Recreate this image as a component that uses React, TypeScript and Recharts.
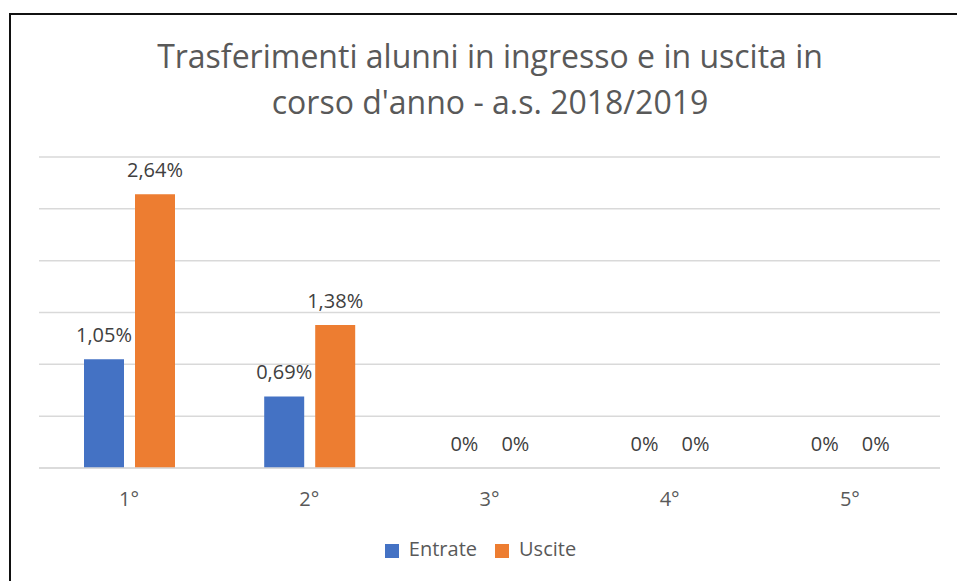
import { Bar, BarChart, CartesianGrid, Legend, XAxis, YAxis } from "recharts";

// Classi (anno di corso)
const classes: string[] = ["1°", "2°", "3°", "4°", "5°"];
// Percentuali di trasferimento
const entrate: number[] = [1.05, 0.69, 0, 0, 0];
const uscite: number[] = [2.64, 1.38, 0, 0, 0];
const yTicks: number[] = [0, 0.5, 1, 1.5, 2, 2.5, 3];

const data = classes.map((c, i) => ({ classe: c, entrate: entrate[i], uscite: uscite[i] }));

const FONT = "'Open Sans', 'Liberation Sans', sans-serif";

const fmt = (v: unknown) => `${String(v).replace(".", ",")}%`;

// etichetta sopra la barra, anche quando il valore è 0
const renderLabel = (props: any) => {
  const { x, y, width, value } = props;
  return (
    <text
      x={Number(x) + Number(width) / 2}
      y={Number(y) - 17}
      textAnchor="middle"
      fill="#404040"
      fontSize={20}
      fontFamily={FONT}
    >
      {fmt(value)}
    </text>
  );
};

export default function App() {
  return (
    <div style={{ position: "absolute", left: 0, top: 0, width: 957, height: 581, background: "#fff", fontFamily: FONT }}>
      <div
        style={{
          position: "absolute",
          left: 9,
          top: 13,
          right: 0,
          bottom: 0,
          borderLeft: "2px solid #111",
          borderTop: "2px solid #111",
        }}
      />
      <div
        style={{
          position: "absolute",
          left: 40,
          width: 900,
          top: 33,
          textAlign: "center",
          color: "#595959",
          fontSize: 32,
          lineHeight: "46px",
        }}
      >
        Trasferimenti alunni in ingresso e in uscita in
        <br />
        corso d'anno - a.s. 2018/2019
      </div>
      <div style={{ position: "absolute", left: 0, top: 0 }}>
        <BarChart
          width={957}
          height={581}
          data={data}
          margin={{ top: 157, right: 17, left: 39, bottom: 19 }}
          barSize={40}
          barGap={11}
        >
          <CartesianGrid horizontal vertical={false} stroke="#d9d9d9" strokeWidth={1.5} />
          <YAxis hide domain={[0, 3]} ticks={yTicks} width={0} />
          <XAxis
            dataKey="classe"
            height={67}
            tickLine={false}
            axisLine={{ stroke: "#d9d9d9", strokeWidth: 1.5 }}
            tick={{ fill: "#595959", fontSize: 20, fontFamily: FONT }}
            tickMargin={18}
          />
          <Legend
            verticalAlign="bottom"
            iconType="square"
            iconSize={14}
            wrapperStyle={{ fontSize: 20, fontFamily: FONT, color: "#595959" }}
            formatter={(value: string) => (
              <span style={{ color: "#595959", marginLeft: 6, marginRight: 8 }}>{value}</span>
            )}
          />
          <Bar dataKey="entrate" name="Entrate" fill="#4472c4" minPointSize={0.01} isAnimationActive={false} label={renderLabel} />
          <Bar dataKey="uscite" name="Uscite" fill="#ed7d31" minPointSize={0.01} isAnimationActive={false} label={renderLabel} />
        </BarChart>
      </div>
    </div>
  );
}
